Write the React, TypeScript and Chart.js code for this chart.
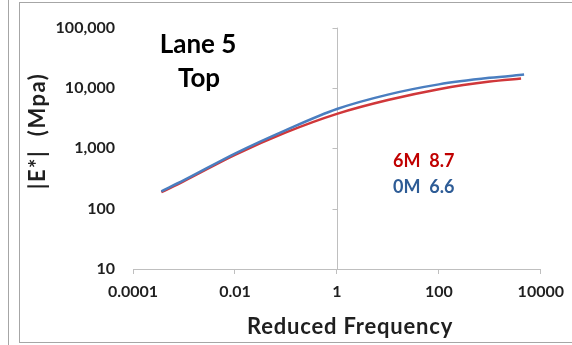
import React, { useEffect, useRef } from "react";
import { Chart, registerables } from "chart.js";

Chart.register(...registerables);

// Reduced frequency (x) and |E*| modulus (y)
const freq6M = [0.00036, 0.001, 0.01, 0.1, 1, 10, 100, 1000, 4100];
const modulus6M = [187, 286, 778, 1837, 3726, 6310, 9550, 12790, 14350];
const freq0M = [0.00036, 0.001, 0.01, 0.1, 1, 10, 100, 1000, 4700];
const modulus0M = [194, 296, 817, 2000, 4477, 7760, 11460, 14720, 16630];

const xTickValues = [0.0001, 0.01, 1, 100, 10000];
const xTickLabels = ["0.0001", "0.01", "1", "100", "10000"];
const yTickValues = [10, 100, 1000, 10000, 100000];
const yTickLabels = ["10", "100", "1,000", "10,000", "100,000"];

const titleLines = ["Lane 5", "Top"];
const seriesNames = ["6M", "0M"];
const seriesNotes = ["8.7", "6.6"];
const xTitle = "Reduced Frequency";
const yTitle = "|E*|  (Mpa)";

const RED = "#D0373A";
const BLUE = "#4A7EC0";
const RED_TEXT = "#C00000";
const BLUE_TEXT = "#2E5C96";
const AXIS_GRAY = "#BFBFBF";
const TEXT_DARK = "#1f1f1f";
const FONT = "Lato, 'Open Sans', sans-serif";

const decorPlugin = {
  id: "decor",
  beforeDraw(chart: any) {
    const ctx = chart.ctx;
    ctx.save();
    ctx.fillStyle = "#ffffff";
    ctx.fillRect(0, 0, chart.width, chart.height);
    ctx.strokeStyle = "#A6A6A6";
    ctx.lineWidth = 1;
    ctx.strokeRect(19.5, 2.5, chart.width + 10, 340);
    ctx.beginPath();
    ctx.moveTo(8.5, 0);
    ctx.lineTo(8.5, chart.height);
    ctx.stroke();
    ctx.restore();
  },
  beforeDatasetsDraw(chart: any) {
    const { ctx, scales } = chart;
    const x = Math.round(scales.x.getPixelForValue(1)) + 0.5;
    ctx.save();
    ctx.strokeStyle = AXIS_GRAY;
    ctx.lineWidth = 1;
    ctx.beginPath();
    ctx.moveTo(x, scales.y.getPixelForValue(yTickValues[0]));
    ctx.lineTo(x, scales.y.getPixelForValue(yTickValues[yTickValues.length - 1]));
    yTickValues.forEach((v) => {
      const y = Math.round(scales.y.getPixelForValue(v)) + 0.5;
      ctx.moveTo(x - 5, y);
      ctx.lineTo(x, y);
    });
    ctx.stroke();
    ctx.restore();
  },
  afterDraw(chart: any) {
    const { ctx } = chart;
    ctx.save();
    // Title lines
    ctx.fillStyle = "#000000";
    ctx.font = `bold 26px ${FONT}`;
    ctx.textAlign = "center";
    ctx.textBaseline = "alphabetic";
    ctx.fillText(titleLines[0], 198, 53);
    ctx.fillText(titleLines[1], 199, 87);
    // Series notes
    ctx.font = `bold 18px ${FONT}`;
    ctx.textAlign = "left";
    ctx.fillStyle = RED_TEXT;
    ctx.fillText(`${seriesNames[0]}  ${seriesNotes[0]}`, 393, 167);
    ctx.fillStyle = BLUE_TEXT;
    ctx.fillText(`${seriesNames[1]}  ${seriesNotes[1]}`, 393, 193);
    // Axis titles
    ctx.fillStyle = TEXT_DARK;
    ctx.font = `bold 22px ${FONT}`;
    ctx.textAlign = "center";
    ctx.textBaseline = "alphabetic";
    try { (ctx as any).letterSpacing = "0.8px"; } catch (e) {}
    ctx.fillText(xTitle, 350, 334);
    try { (ctx as any).letterSpacing = "1.5px"; } catch (e) {}
    ctx.textBaseline = "middle";
    ctx.translate(38, 131);
    ctx.rotate(-Math.PI / 2);
    ctx.fillText(yTitle, 0, 0);
    try { (ctx as any).letterSpacing = "0px"; } catch (e) {}
    ctx.restore();
  },
};

export default function App() {
  const ref = useRef<HTMLCanvasElement | null>(null);

  useEffect(() => {
    if (!ref.current) return;
    const chart = new Chart(ref.current, {
      type: "line",
      data: {
        datasets: [
          {
            label: "0M",
            data: freq0M.map((f, i) => ({ x: f, y: modulus0M[i] })),
            borderColor: BLUE,
            borderWidth: 2.5,
            pointRadius: 0,
            cubicInterpolationMode: "monotone",
            fill: false,
          },
          {
            label: "6M",
            data: freq6M.map((f, i) => ({ x: f, y: modulus6M[i] })),
            borderColor: RED,
            borderWidth: 2.5,
            pointRadius: 0,
            cubicInterpolationMode: "monotone",
            fill: false,
          },
        ],
      },
      options: {
        animation: false,
        responsive: false,
        devicePixelRatio: 1,
        layout: { padding: { left: 0, top: 19, right: 27, bottom: 0 } },
        plugins: {
          legend: { display: false },
          tooltip: { enabled: false },
          title: { display: false },
        },
        scales: {
          x: {
            type: "logarithmic",
            min: 0.0001,
            max: 10000,
            afterBuildTicks: (scale: any) => {
              scale.ticks = xTickValues.map((v) => ({ value: v }));
            },
            afterFit: (scale: any) => {
              scale.height = 76;
            },
            grid: {
              display: true,
              drawOnChartArea: false,
              drawTicks: true,
              tickLength: 5,
              color: AXIS_GRAY,
            },
            border: { display: true, color: AXIS_GRAY },
            ticks: {
              autoSkip: false,
              maxRotation: 0,
              padding: 8,
              color: TEXT_DARK,
              font: { family: FONT, size: 16, weight: "bold" },
              callback: (value: any) => {
                const i = xTickValues.indexOf(Number(value));
                return i >= 0 ? xTickLabels[i] : "";
              },
            },
          },
          y: {
            type: "logarithmic",
            min: 10,
            max: 100000,
            afterBuildTicks: (scale: any) => {
              scale.ticks = yTickValues.map((v) => ({ value: v }));
            },
            afterFit: (scale: any) => {
              scale.width = 133;
            },
            grid: { display: false, drawTicks: false },
            border: { display: false },
            ticks: {
              autoSkip: false,
              padding: 18,
              color: TEXT_DARK,
              font: { family: FONT, size: 16, weight: "bold" },
              callback: (value: any) => {
                const i = yTickValues.indexOf(Number(value));
                return i >= 0 ? yTickLabels[i] : "";
              },
            },
          },
        },
      } as any,
      plugins: [decorPlugin],
    });
    return () => chart.destroy();
  }, []);

  return (
    <div style={{ position: "fixed", left: 0, top: 0, width: 572, height: 345, background: "#fff" }}>
      <canvas ref={ref} width={572} height={345} style={{ display: "block" }} />
    </div>
  );
}
